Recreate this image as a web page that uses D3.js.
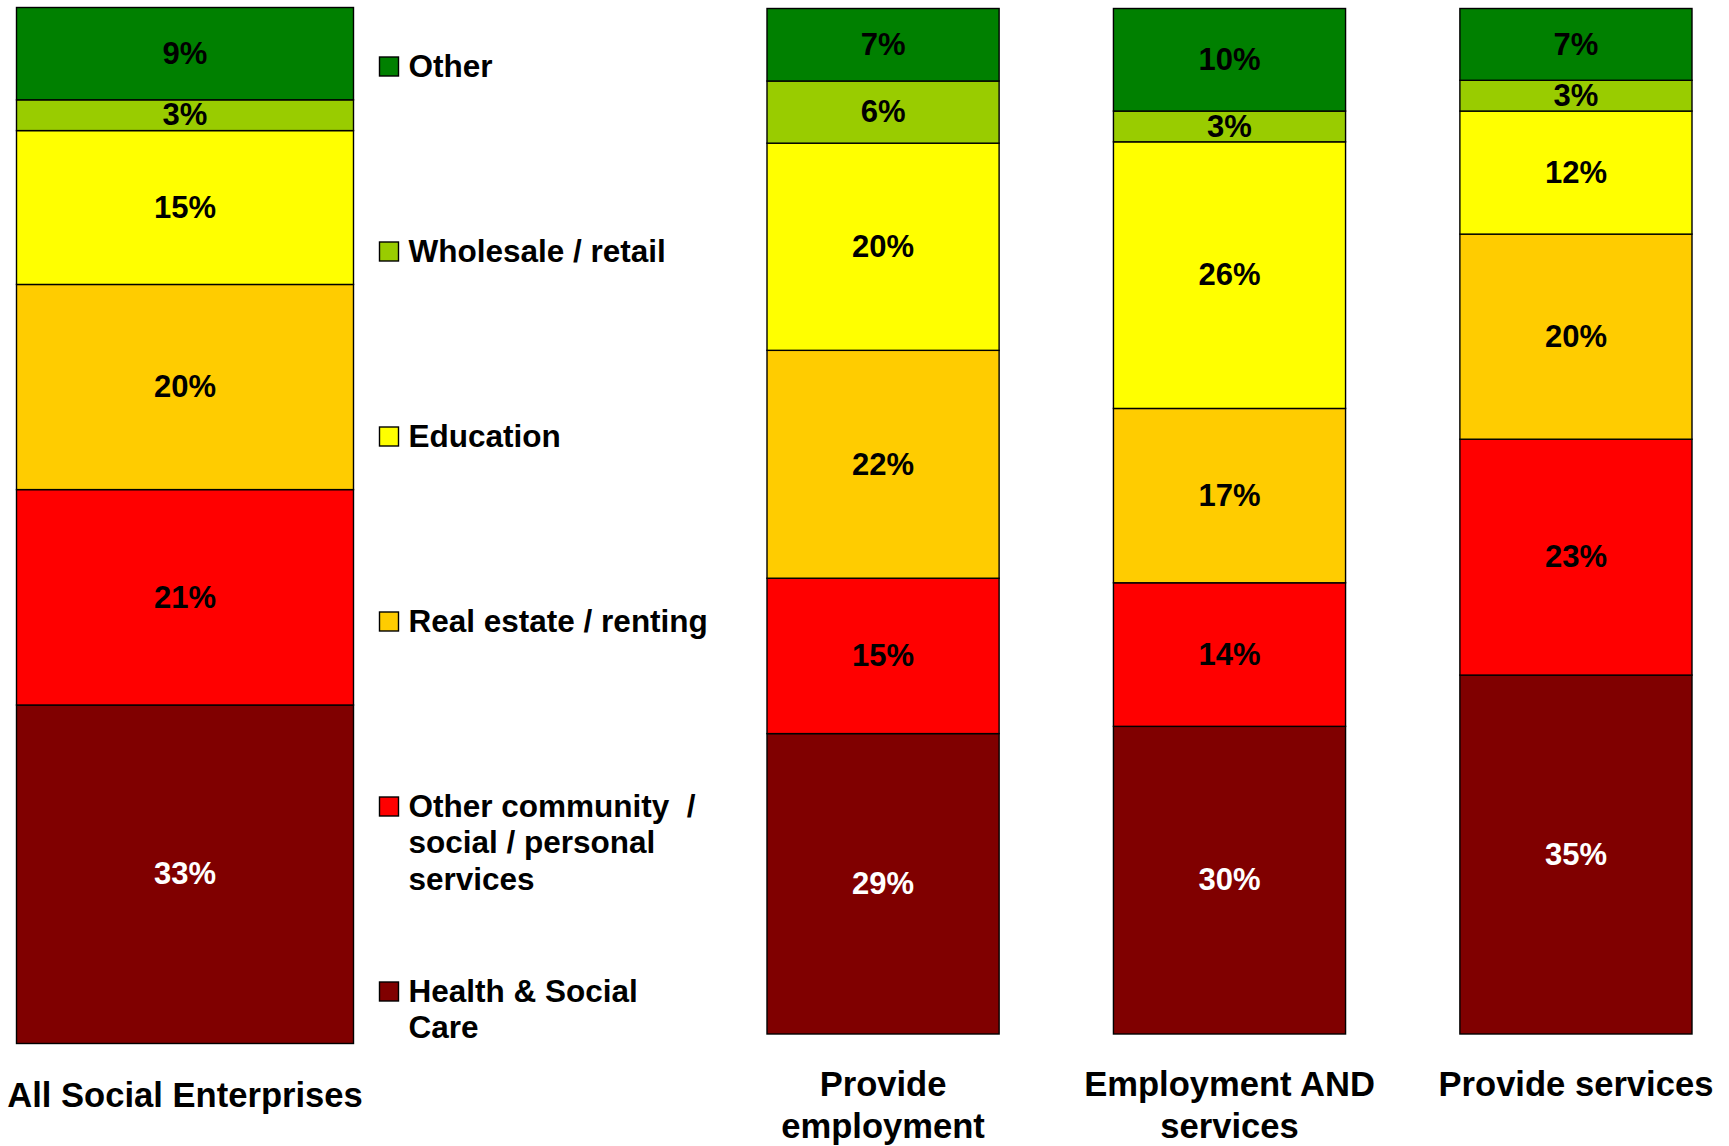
<!DOCTYPE html>
<html>
<head>
<meta charset="utf-8">
<script src="https://cdn.jsdelivr.net/npm/d3@7"></script>
<style>
  html, body { margin: 0; padding: 0; background: #fff; }
  svg { display: block; font-family: "Liberation Sans", Arial, Helvetica, sans-serif; font-weight: bold; }
</style>
</head>
<body>
<svg id="chart" width="1729" height="1146"></svg>
<script>
// Sector mix of social enterprises, 100% stacked columns
const groups = ["All Social Enterprises", "Provide employment", "Employment AND services", "Provide services"];
const groupLabelLines = [["All Social Enterprises"], ["Provide", "employment"], ["Employment AND", "services"], ["Provide services"]];

// Series, listed bottom to top of each column (values in %)
const seriesNames = ["Health & Social Care", "Other community / social / personal services", "Real estate / renting", "Education", "Wholesale / retail", "Other"];
const healthSocialCare   = [33, 29, 30, 35];
const otherCommunity     = [21, 15, 14, 23];
const realEstateRenting  = [20, 22, 17, 20];
const education          = [15, 20, 26, 12];
const wholesaleRetail    = [3, 6, 3, 3];
const otherSector        = [9, 7, 10, 7];

const seriesColors = ["#800000", "#FF0000", "#FFCC00", "#FFFF00", "#99CC00", "#008000"];
const labelColors  = ["#FFFFFF", "#000000", "#000000", "#000000", "#000000", "#000000"];

// Legend entries, listed top to bottom, with their wrapped lines
const legendLines = [
  ["Other"],
  ["Wholesale / retail"],
  ["Education"],
  ["Real estate / renting"],
  ["Other community  /", "social / personal", "services"],
  ["Health & Social", "Care"]
];
const legendColors = ["#008000", "#99CC00", "#FFFF00", "#FFCC00", "#FF0000", "#800000"];

const seriesValues = [healthSocialCare, otherCommunity, realEstateRenting, education, wholesaleRetail, otherSector];
const rows = groups.map((g, i) => {
  const r = { group: g };
  seriesNames.forEach((s, j) => { r[s] = seriesValues[j][i]; });
  return r;
});

const stack = d3.stack().keys(seriesNames).offset(d3.stackOffsetExpand);

const svg = d3.select("#chart");
const labelFont = 31;
const legendFont = 31.5;
const catFont = 34.6;

// Two panels: the overall column on the left, the three breakdown columns on the right
const panels = [
  { rows: rows.slice(0, 1), x: d3.scaleBand().domain(groups.slice(0, 1)).range([16.5, 353.5]).paddingInner(0).paddingOuter(0),
    y: d3.scaleLinear().domain([0, 1]).range([1043.5, 7.5]) },
  { rows: rows.slice(1), x: d3.scaleBand().domain(groups.slice(1)).range([767, 1692]).paddingInner(0.33).paddingOuter(0),
    y: d3.scaleLinear().domain([0, 1]).range([1034, 8.5]) }
];

panels.forEach(p => {
  const layers = stack(p.rows);
  const g = svg.append("g");
  layers.forEach((layer, li) => {
    g.selectAll(null).data(layer).join("rect")
      .attr("x", d => p.x(d.data.group))
      .attr("width", p.x.bandwidth())
      .attr("y", d => p.y(d[1]))
      .attr("height", d => p.y(d[0]) - p.y(d[1]))
      .attr("fill", seriesColors[li])
      .attr("stroke", "#000")
      .attr("stroke-width", 1.4);
  });
  layers.forEach((layer, li) => {
    g.selectAll(null).data(layer).join("text")
      .attr("x", d => p.x(d.data.group) + p.x.bandwidth() / 2)
      .attr("y", d => (p.y(d[0]) + p.y(d[1])) / 2)
      .attr("dy", "0.33em")
      .attr("text-anchor", "middle")
      .attr("font-size", labelFont)
      .attr("fill", labelColors[li])
      .text(d => d.data[layer.key] + "%");
  });
});

// Column captions
const captionBaseline = [1107, 1096, 1096, 1096];
groups.forEach((gname, i) => {
  const p = i === 0 ? panels[0] : panels[1];
  const cx = p.x(gname) + p.x.bandwidth() / 2;
  const t = svg.append("text")
    .attr("text-anchor", "middle")
    .attr("font-size", catFont)
    .attr("fill", "#000");
  groupLabelLines[i].forEach((line, k) => {
    t.append("tspan").attr("x", cx).attr("y", captionBaseline[i] + k * 42).text(line);
  });
});

// Legend
const legendY = d3.scalePoint().domain(d3.range(legendLines.length)).range([66.5, 991.5]);
const legend = svg.append("g");
legendLines.forEach((lines, i) => {
  const cy = legendY(i);
  legend.append("rect")
    .attr("x", 379.5).attr("y", cy - 9.5)
    .attr("width", 19).attr("height", 19)
    .attr("fill", legendColors[i])
    .attr("stroke", "#000").attr("stroke-width", 1.4);
  const t = legend.append("text")
    .attr("font-size", legendFont)
    .attr("fill", "#000")
    .style("white-space", "pre");
  lines.forEach((line, k) => {
    t.append("tspan").attr("x", 408.5).attr("y", cy + k * 36.4).attr("dy", "0.33em").text(line);
  });
});
</script>
</body>
</html>
